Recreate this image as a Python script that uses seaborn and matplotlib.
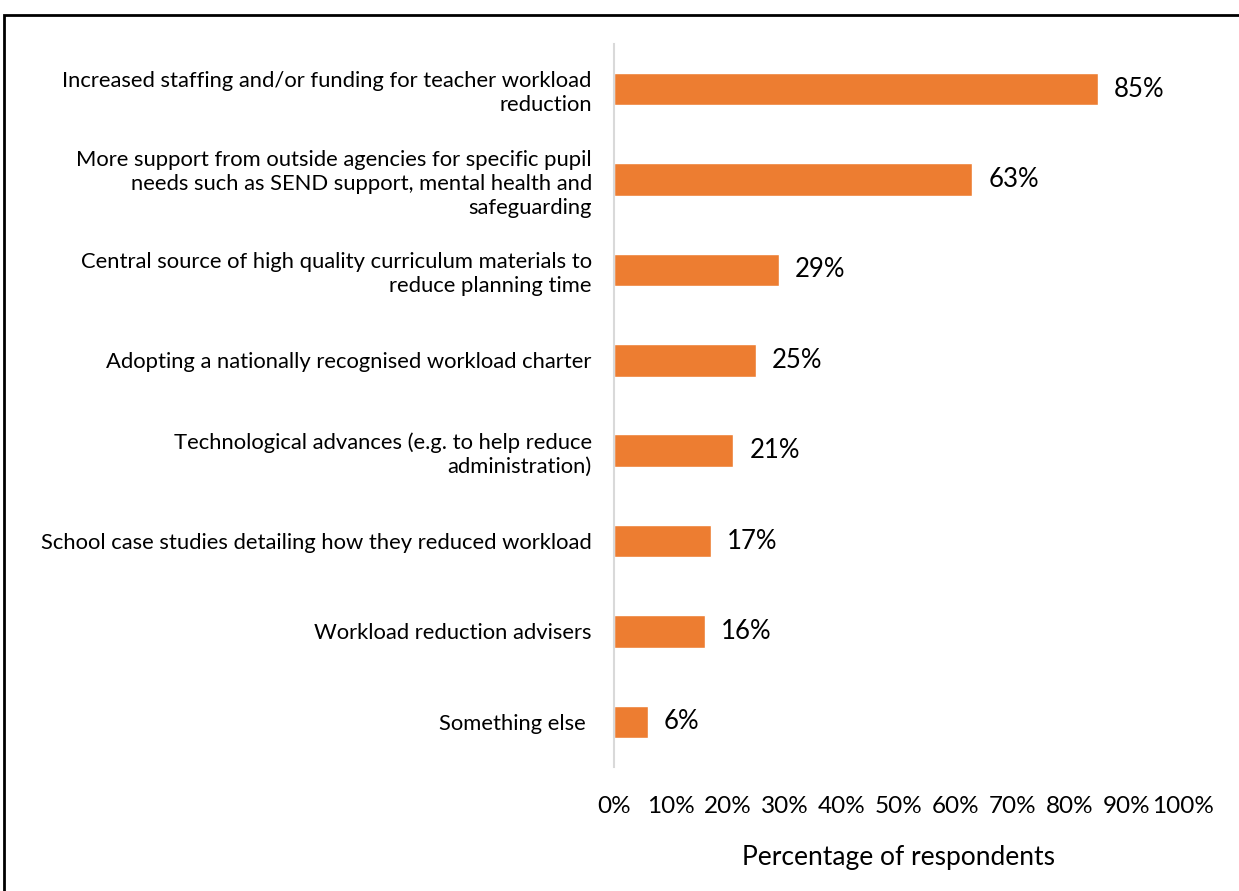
import matplotlib
matplotlib.use("Agg")
import matplotlib.pyplot as plt
import matplotlib.patches as mpatches
import seaborn as sns
import pandas as pd
from matplotlib.ticker import FuncFormatter, MultipleLocator

categories = [
    "Increased staffing and/or funding for teacher workload\nreduction",
    "More support from outside agencies for specific pupil\nneeds such as SEND support, mental health and\nsafeguarding",
    "Central source of high quality curriculum materials to\nreduce planning time",
    "Adopting a nationally recognised workload charter",
    "Technological advances (e.g. to help reduce\nadministration)",
    "School case studies detailing how they reduced workload",
    "Workload reduction advisers",
    "Something else ",
]
values = [85, 63, 29, 25, 21, 17, 16, 6]
x_label = "Percentage of respondents"

sns.set_theme(style="white")
plt.rcParams['font.family'] = ['Lato', 'DejaVu Sans']

df = pd.DataFrame({"category": categories, "value": values})

fig = plt.figure(figsize=(12.39, 8.91), dpi=100)
ax = fig.add_axes([614/1239, 1-767/891, (1183-614)/1239, (767-44)/891])

sns.barplot(data=df, y="category", x="value", color="#ED7D31", width=0.36,
            orient="h", ax=ax, saturation=1)

ax.set_xlim(0, 100)
ax.xaxis.set_major_locator(MultipleLocator(10))
ax.xaxis.set_major_formatter(FuncFormatter(lambda v, p: f"{int(round(v))}%"))
ax.tick_params(axis='x', labelsize=17.5, length=0, pad=21, colors='#000000')
ax.tick_params(axis='y', labelsize=15.8, length=0, pad=16, colors='#000000')
for lab in ax.get_yticklabels():
    lab.set_horizontalalignment('right')
    lab.set_multialignment('right')
    lab.set_linespacing(1.25)
ax.set_ylabel("")
ax.set_xlabel(x_label, fontsize=19, labelpad=20, color='#000000')

for s in ['top', 'right', 'bottom']:
    ax.spines[s].set_visible(False)
ax.spines['left'].set_color('#D9D9D9')
ax.spines['left'].set_linewidth(1.5)

for i, v in enumerate(values):
    ax.text(v + 2.8, i, f"{v}%", va='center', ha='left', fontsize=18.5, color='#000000')

# outer frame
frame = mpatches.Rectangle((4/1239, -0.05), 1.2, 1 - 15/891 + 0.05, transform=fig.transFigure,
                           fill=False, edgecolor='black', linewidth=2, clip_on=False)
fig.patches.append(frame)

fig.savefig("out.png", dpi=100, facecolor='white')
